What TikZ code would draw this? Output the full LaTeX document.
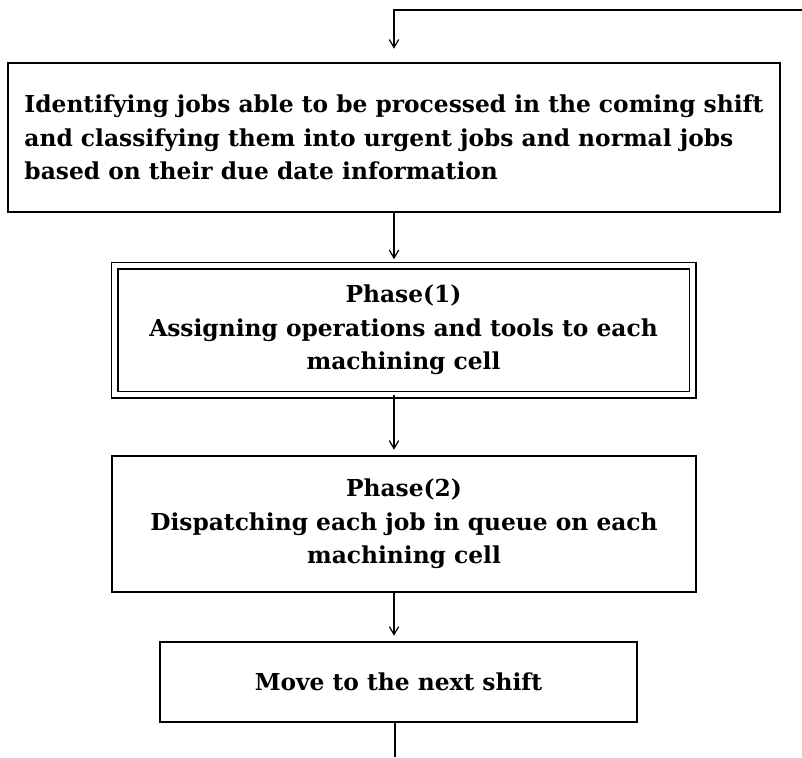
\documentclass[tikz,border=0pt]{standalone}
\usepackage{fontspec}
\setmainfont{DejaVu Serif}
\usetikzlibrary{arrows.meta,positioning}

\begin{document}
\begin{tikzpicture}[x=0.75pt, y=-0.75pt,
    stepbox/.style={rectangle, draw, line width=1.4pt, align=center, inner sep=0pt,
        font=\fontsize{17.5}{25}\selectfont\bfseries},
    phasebox/.style={stepbox, double, double distance=3.2pt},
    arr/.style={-{Straight Barb[length=6pt,width=7pt]}, line width=0.9pt, shorten >=4pt},
    flow/.style={line width=0.9pt}
]
    \useasboundingbox (0,0) rectangle (802,757);
    \node[stepbox, align=left, minimum width=579pt, minimum height=111.75pt] (ident) at (394,137.5)
        {Identifying jobs able to be processed in the coming shift\\
         and classifying them into urgent jobs and normal jobs\\
         based on their due date information};
    \node[phasebox, minimum width=433.5pt, minimum height=96.75pt] (phase1) at (403.5,330)
        {Phase(1)\\ Assigning operations and tools to each\\ machining cell};
    \node[stepbox, minimum width=438pt, minimum height=102pt] (phase2) at (404,524)
        {Phase(2)\\ Dispatching each job in queue on each\\ machining cell};
    \node[stepbox, minimum width=357.75pt, minimum height=60pt] (move) at (398.5,682)
        {Move to the next shift};
    % loop back to the next shift
    \coordinate (looptop) at (802,10);
    \coordinate (loopend) at (395,757);
    \draw[arr] (ident.south) -- (ident.south |- phase1.north);
    \draw[arr] (ident.south |- phase1.south) -- (ident.south |- phase2.north);
    \draw[arr] (ident.south |- phase2.south) -- (ident.south |- move.north);
    \draw[flow] (loopend |- move.south) -- (loopend);
    \draw[arr, shorten >=10pt] (looptop) -- (looptop -| ident.north) -- (ident.north);
\end{tikzpicture}
\end{document}
